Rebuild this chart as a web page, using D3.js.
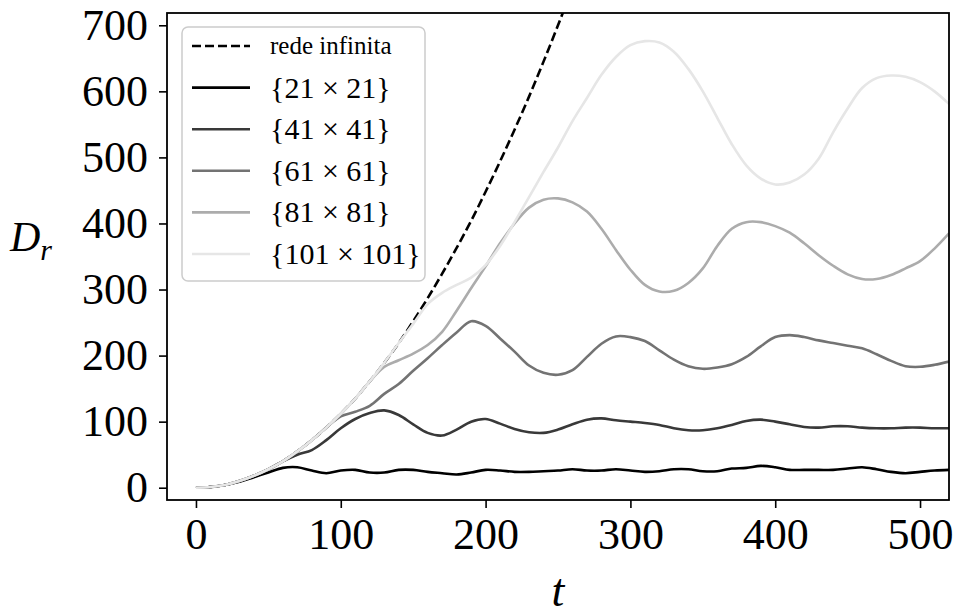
<!DOCTYPE html>
<html>
<head>
<meta charset="utf-8">
<script src="https://cdn.jsdelivr.net/npm/d3@7"></script>
<style>
  body { margin: 0; background: #fff; }
  svg { display: block; }
</style>
</head>
<body>
<div id="chart"></div>
<script>
// time grid (t)
const T = [0, 10, 20, 30, 40, 50, 60, 70, 80, 90, 100, 110, 120, 130, 140, 150, 160, 170, 180, 190,
  200, 210, 220, 230, 240, 250, 260, 270, 280, 290, 300, 310, 320, 330, 340, 350, 360, 370, 380, 390,
  400, 410, 420, 430, 440, 450, 460, 470, 480, 490, 500, 510, 520];

// infinite lattice, only up to where it leaves the plot
const T_INF = [0, 10, 20, 30, 40, 50, 60, 70, 80, 90, 100, 110, 120, 130, 140, 150, 160, 170, 180, 190,
  200, 210, 220, 230, 240, 250, 260];
const D_INF = [0, 1, 4, 10, 18, 28, 40, 55, 72, 91, 112, 135, 161, 189, 219, 252, 287, 324, 363, 404,
  448, 494, 542, 592, 645, 700, 757];

const D_21 = [0, 1, 4, 9, 16, 23, 30, 31, 26, 22, 26, 27, 23, 23, 27, 27, 24, 22, 20, 23,
  27, 26, 24, 24, 25, 26, 28, 26, 26, 28, 26, 24, 25, 28, 28, 25, 25, 29, 30, 33,
  31, 27, 27, 27, 27, 29, 31, 28, 24, 22, 24, 26, 27];

const D_41 = [0, 1, 4, 10, 18, 28, 40, 50, 57, 72, 90, 104, 113, 117, 110, 96, 83, 79, 88, 100,
  104, 97, 89, 84, 83, 88, 96, 103, 105, 102, 100, 98, 95, 90, 87, 87, 90, 95, 101, 103,
  100, 96, 92, 91, 93, 93, 91, 90, 90, 91, 91, 90, 90];

const D_61 = [0, 1, 4, 10, 18, 28, 40, 55, 72, 91, 108, 115, 124, 142, 157, 177, 196, 216, 235, 252,
  245, 226, 206, 185, 174, 171, 178, 198, 218, 229, 228, 222, 208, 194, 184, 180, 182, 187, 198, 214,
  228, 231, 228, 223, 219, 215, 211, 202, 192, 184, 183, 186, 191];

const D_81 = [0, 1, 4, 10, 18, 28, 40, 55, 72, 91, 112, 135, 161, 183, 193, 203, 216, 236, 268, 302,
  335, 370, 400, 424, 436, 438, 432, 418, 392, 360, 330, 307, 297, 298, 310, 332, 366, 392, 402, 402,
  396, 386, 370, 352, 336, 323, 316, 316, 322, 332, 343, 362, 385];

const D_101 = [0, 1, 4, 10, 18, 28, 40, 55, 72, 91, 112, 135, 161, 189, 219, 248, 278, 295, 307, 318,
  337, 366, 402, 440, 478, 515, 555, 590, 625, 652, 670, 676, 674, 660, 634, 600, 560, 520, 488, 468,
  459, 462, 474, 498, 538, 574, 605, 620, 624, 622, 614, 600, 581];

const SERIES_LABELS = ["{21 \u00d7 21}", "{41 \u00d7 41}", "{61 \u00d7 61}", "{81 \u00d7 81}", "{101 \u00d7 101}"];
const SERIES_COLORS = ["#000000", "#393939", "#737373", "#acacac", "#e6e6e6"];
const INF_LABEL = "rede infinita";

const X_TICKS = [0, 100, 200, 300, 400, 500];
const Y_TICKS = [0, 100, 200, 300, 400, 500, 600, 700];

const FONT = "'Liberation Serif', 'DejaVu Serif', serif";
const LINE_W = 2.6;

const width = 957, height = 615;
const margin = { left: 167, right: 8, top: 13, bottom: 115 };
const plot_width = width - margin.left - margin.right;   // 782
const plot_height = height - margin.top - margin.bottom; // 487

const svg = d3.select("#chart")
  .append("svg")
  .attr("width", width)
  .attr("height", height);

const g = svg.append("g")
  .attr("transform", `translate(${margin.left},${margin.top})`);

const xScale = d3.scaleLinear().domain([-20, 520]).range([0, plot_width]);
const yScale = d3.scaleLinear().domain([-18.6, 718.6]).range([plot_height, 0]);

g.append("clipPath").attr("id", "clip")
  .append("rect")
  .attr("width", plot_width)
  .attr("height", plot_height);

const line = d3.line()
  .x(d => xScale(d[0]))
  .y(d => yScale(d[1]))
  .curve(d3.curveCatmullRom.alpha(0.5));

const lines = g.append("g").attr("clip-path", "url(#clip)");

lines.append("path")
  .datum(T_INF.map((t, i) => [t, D_INF[i]]))
  .attr("d", line)
  .attr("fill", "none")
  .attr("stroke", "#000")
  .attr("stroke-width", LINE_W)
  .attr("stroke-dasharray", "9,4");

const allSeries = [D_21, D_41, D_61, D_81, D_101];
allSeries.forEach((vals, k) => {
  lines.append("path")
    .datum(T.map((t, i) => [t, vals[i]]))
    .attr("d", line)
    .attr("fill", "none")
    .attr("stroke", SERIES_COLORS[k])
    .attr("stroke-width", LINE_W)
    .attr("stroke-linejoin", "round");
});

// axes
const xAxis = g.append("g")
  .attr("transform", `translate(0,${plot_height})`)
  .call(d3.axisBottom(xScale).tickValues(X_TICKS).tickSize(8).tickPadding(10));

const yAxis = g.append("g")
  .call(d3.axisLeft(yScale).tickValues(Y_TICKS).tickSize(8).tickPadding(11));

[xAxis, yAxis].forEach(a => {
  a.select(".domain").remove();
  a.selectAll(".tick line").attr("stroke", "#000").attr("stroke-width", 1.6);
  a.selectAll(".tick text")
    .attr("fill", "#000")
    .style("font-family", FONT)
    .style("font-size", "44px");
});

// frame
g.append("rect")
  .attr("x", 0)
  .attr("y", 0)
  .attr("width", plot_width)
  .attr("height", plot_height)
  .attr("fill", "none")
  .attr("stroke", "#000")
  .attr("stroke-width", 1.8);

// axis labels
svg.append("text")
  .attr("x", 558)
  .attr("y", 606)
  .attr("text-anchor", "middle")
  .style("font-family", FONT)
  .style("font-style", "italic")
  .style("font-size", "46px")
  .text("t");

const yl = svg.append("text")
  .attr("x", 10)
  .attr("y", 251)
  .style("font-family", FONT)
  .style("font-style", "italic")
  .style("font-size", "42px")
  .text("D");
yl.append("tspan")
  .attr("dy", 9)
  .style("font-size", "30px")
  .text("r");

// legend
const legend = svg.append("g").attr("transform", "translate(182,27)");
legend.append("rect")
  .attr("width", 243)
  .attr("height", 254)
  .attr("rx", 6)
  .attr("fill", "#fff")
  .attr("fill-opacity", 0.85)
  .attr("stroke", "#cccccc")
  .attr("stroke-width", 1.5);

const legendItems = [{ label: INF_LABEL, color: "#000", dash: "9,4" }]
  .concat(SERIES_LABELS.map((l, i) => ({ label: l, color: SERIES_COLORS[i], dash: null })));

const rowY = d3.scaleLinear().domain([0, 5]).range([19, 227]);

legendItems.forEach((d, i) => {
  const y = rowY(i);
  legend.append("line")
    .attr("x1", 10)
    .attr("x2", 68)
    .attr("y1", y)
    .attr("y2", y)
    .attr("stroke", d.color)
    .attr("stroke-width", LINE_W)
    .attr("stroke-dasharray", d.dash);
  legend.append("text")
    .attr("x", 88)
    .attr("y", y)
    .attr("dy", "0.33em")
    .style("font-family", FONT)
    .style("font-size", i === 0 ? "25px" : "30px")
    .attr("fill", "#000")
    .text(d.label);
});
</script>
</body>
</html>
